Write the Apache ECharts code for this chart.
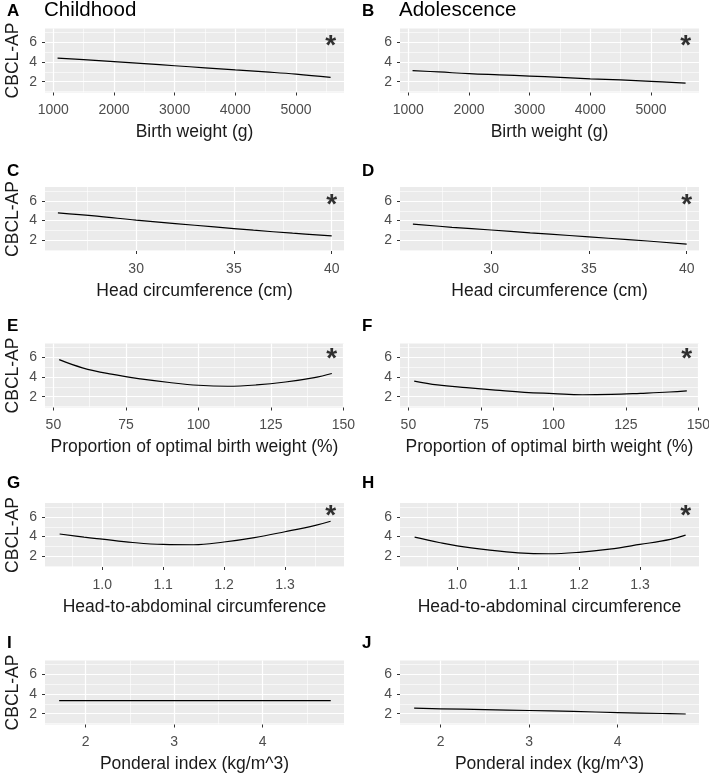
<!DOCTYPE html>
<html>
<head>
<meta charset="utf-8">
<script src="https://cdn.jsdelivr.net/npm/echarts@6/dist/echarts.min.js"></script>
<style>
  html, body { margin: 0; padding: 0; background: #fff; }
  #main { width: 709px; height: 774px; }
</style>
</head>
<body>
<div id="main"></div>
<script>
  // shared y scale (CBCL-AP)
  const yRange = [0.9, 7.43];
  const yTicks = [2, 4, 6];
  const yMinor = [1, 3, 5, 7];

  // birth weight (g)
  const bwX = [1070, 1500, 2000, 2500, 3000, 3500, 4000, 4500, 5000, 5570];
  const bwChild = [4.4, 4.25, 4.05, 3.85, 3.63, 3.42, 3.2, 3.0, 2.78, 2.45];
  const bwAdol = [3.13, 3.0, 2.82, 2.7, 2.58, 2.45, 2.3, 2.18, 2.04, 1.85];
  const bwTicks = [1000, 2000, 3000, 4000, 5000];
  const bwRange = [863, 5791];

  // head circumference (cm)
  const hcX = [26, 28, 30, 32, 34, 36, 38, 40];
  const hcChild = [4.78, 4.45, 4.05, 3.7, 3.36, 3.02, 2.72, 2.44];
  const hcAdol = [3.65, 3.32, 3.04, 2.75, 2.48, 2.2, 1.92, 1.6];
  const hcTicks = [30, 35, 40];
  const hcRange = [25.34, 40.63];

  // proportion of optimal birth weight (%)
  const pobwX = [52, 60, 70, 80, 90, 100, 110, 120, 130, 140, 146];
  const pobwChild = [5.78, 4.95, 4.3, 3.82, 3.45, 3.17, 3.07, 3.2, 3.5, 3.95, 4.37];
  const pobwAdol = [3.6, 3.2, 2.92, 2.68, 2.45, 2.32, 2.2, 2.24, 2.35, 2.48, 2.6];
  const pobwTicks = [50, 75, 100, 125, 150];
  const pobwRange = [47.1, 150.2];

  // head-to-abdominal circumference
  const hacX = [0.93, 0.97, 1.0, 1.05, 1.1, 1.15, 1.2, 1.25, 1.3, 1.35, 1.375];
  const hacChild = [4.27, 3.95, 3.74, 3.4, 3.2, 3.17, 3.45, 3.9, 4.5, 5.15, 5.57];
  const hacAdol = [3.94, 3.4, 3.05, 2.65, 2.35, 2.25, 2.4, 2.72, 3.2, 3.72, 4.15];
  const hacTicks = [1.0, 1.1, 1.2, 1.3];
  const hacRange = [0.906, 1.397];

  // ponderal index (kg/m^3)
  const piX = [1.7, 2.0, 2.5, 3.0, 3.5, 4.0, 4.5, 4.77];
  const piChild = [3.33, 3.33, 3.33, 3.33, 3.33, 3.33, 3.33, 3.33];
  const piAdol = [2.57, 2.5, 2.42, 2.33, 2.23, 2.12, 2.02, 1.97];
  const piTicks = [2, 3, 4];
  const piRange = [1.54, 4.92];

  const panelTags = ['A', 'B', 'C', 'D', 'E', 'F', 'G', 'H', 'I', 'J'];
  const columnTitles = ['Childhood', 'Adolescence'];
  const xTitles = ['Birth weight (g)', 'Head circumference (cm)', 'Proportion of optimal birth weight (%)',
                   'Head-to-abdominal circumference', 'Ponderal index (kg/m^3)'];
  // y of the significance asterisk (null = none)
  const starY = [6.0, 6.0, 6.0, 6.0, 6.2, 6.2, 6.5, 6.5, null, null];

  const rows = [
    { x: bwX, ys: [bwChild, bwAdol], ticks: bwTicks, range: bwRange, dec: 0 },
    { x: hcX, ys: [hcChild, hcAdol], ticks: hcTicks, range: hcRange, dec: 0 },
    { x: pobwX, ys: [pobwChild, pobwAdol], ticks: pobwTicks, range: pobwRange, dec: 0 },
    { x: hacX, ys: [hacChild, hacAdol], ticks: hacTicks, range: hacRange, dec: 1 },
    { x: piX, ys: [piChild, piAdol], ticks: piTicks, range: piRange, dec: 0 }
  ];

  const FONT = '"Liberation Sans", Arial, sans-serif';
  const colLeft = [45, 400];
  const panelW = 299;
  const panelH = 64;
  const rowTop = [28.5, 187, 343.5, 503, 660.5];
  const tagY = [11.7, 171, 326, 483, 643];

  const grids = [], xAxes = [], yAxes = [], series = [], graphics = [];

  rows.forEach((row, r) => {
    const step = row.ticks[1] - row.ticks[0];
    const xMinor = row.ticks.map(t => t - step / 2).concat([row.ticks[row.ticks.length - 1] + step / 2]);
    [0, 1].forEach(c => {
      const i = r * 2 + c;
      grids.push({
        left: colLeft[c], top: rowTop[r], width: panelW, height: panelH,
        show: true, backgroundColor: '#ebebeb', borderWidth: 0, outerBoundsMode: 'none'
      });
      // major x axis
      xAxes.push({
        type: 'value', gridIndex: i, min: row.range[0], max: row.range[1],
        axisLine: { show: false },
        axisTick: { show: true, customValues: row.ticks, length: 3, lineStyle: { color: '#333', width: 1 } },
        axisLabel: {
          customValues: row.ticks, color: '#4d4d4d', fontSize: 14, fontFamily: FONT, margin: 11,
          formatter: v => Number(v).toFixed(row.dec)
        },
        splitLine: { show: true, lineStyle: { color: '#fff', width: 1.2 } },
        name: xTitles[r], nameLocation: 'middle', nameGap: 31,
        nameTextStyle: { color: '#1a1a1a', fontSize: 17.5, fontFamily: FONT }
      });
      // minor x grid
      xAxes.push({
        type: 'value', gridIndex: i, min: row.range[0], max: row.range[1], position: 'bottom',
        axisLine: { show: false },
        axisTick: { show: false, customValues: xMinor },
        axisLabel: { show: false },
        splitLine: { show: true, lineStyle: { color: '#fff', width: 0.6 } }
      });
      yAxes.push({
        type: 'value', gridIndex: i, min: yRange[0], max: yRange[1],
        axisLine: { show: false },
        axisTick: { show: true, customValues: yTicks, length: 3, lineStyle: { color: '#333', width: 1 } },
        axisLabel: { customValues: yTicks, color: '#4d4d4d', fontSize: 14, fontFamily: FONT, margin: 8 },
        splitLine: { show: true, lineStyle: { color: '#fff', width: 1.2 } },
        name: c === 0 ? 'CBCL-AP' : '', nameLocation: 'middle', nameGap: 23, nameRotate: 90,
        nameTextStyle: { color: '#1a1a1a', fontSize: 17.5, fontFamily: FONT }
      });
      yAxes.push({
        type: 'value', gridIndex: i, min: yRange[0], max: yRange[1], position: 'left',
        axisLine: { show: false },
        axisTick: { show: false, customValues: yMinor },
        axisLabel: { show: false },
        splitLine: { show: true, lineStyle: { color: '#fff', width: 0.6 } }
      });
      const ys = row.ys[c];
      series.push({
        type: 'line', xAxisIndex: i * 2, yAxisIndex: i * 2,
        data: row.x.map((xv, k) => [xv, ys[k]]),
        showSymbol: false, smooth: 0.4, silent: true,
        lineStyle: { color: '#000', width: 1.2 }
      });
      if (starY[i] !== null) {
        series.push({
          type: 'scatter', xAxisIndex: i * 2, yAxisIndex: i * 2, silent: true,
          data: [[row.x[row.x.length - 1], starY[i]]], symbolSize: 0,
          label: {
            show: true, position: 'inside', formatter: '*', offset: [0, 4],
            fontSize: 28, fontWeight: 'bold', color: '#000', fontFamily: FONT
          }
        });
      }
      graphics.push({
        type: 'text', x: c === 0 ? 7 : 362, y: tagY[r],
        style: { text: panelTags[i], font: 'bold 17px ' + FONT, fill: '#000', verticalAlign: 'middle' }
      });
    });
  });

  columnTitles.forEach((t, c) => {
    graphics.push({
      type: 'text', x: colLeft[c] - 1, y: 10,
      style: { text: t, font: '20.5px ' + FONT, fill: '#000', verticalAlign: 'middle' }
    });
  });

  const chart = echarts.init(document.getElementById('main'), null, { renderer: 'canvas' });
  chart.setOption({
    animation: false,
    grid: grids,
    xAxis: xAxes,
    yAxis: yAxes,
    series: series,
    graphic: graphics
  });
</script>
</body>
</html>
